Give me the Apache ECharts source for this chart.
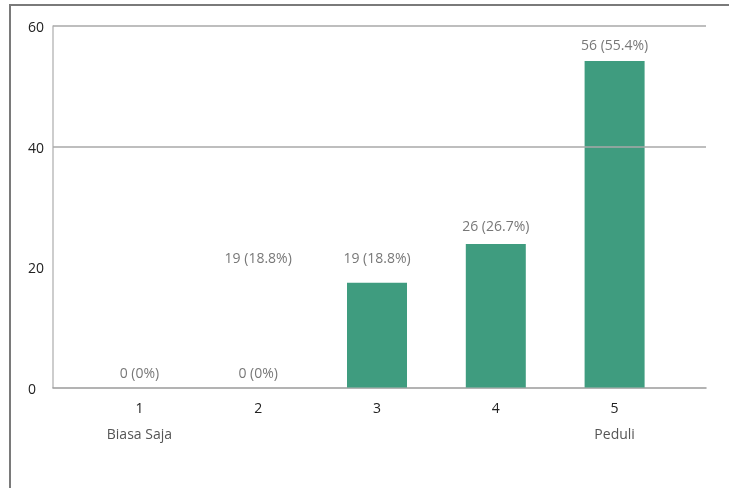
<!DOCTYPE html>
<html>
<head>
<meta charset="utf-8">
<script src="https://cdn.jsdelivr.net/npm/echarts@6/dist/echarts.min.js"></script>
<style>html,body{margin:0;padding:0;background:#fff}#c{width:729px;height:488px}</style>
</head>
<body>
<div id="c"></div>
<script>
// Categories and sub-labels
var categories = ['1', '2', '3', '4', '5'];
var subLabels = ['Biasa Saja', '', '', '', 'Peduli'];
// Bar heights as drawn in the picture
var barValues = [0, 0, 17.4, 23.8, 54.2];
// Value labels (category index, label height, text)
var labelCats = [0, 1, 1, 2, 3, 4];
var labelYs = [2.2, 2.2, 21.3, 21.3, 26.6, 56.6];
var labelTexts = ['0 (0%)', '0 (0%)', '19 (18.8%)', '19 (18.8%)', '26 (26.7%)', '56 (55.4%)'];
// Y axis ticks and drawn gridlines
var yTicks = [0, 20, 40, 60];
var gridValues = [40, 60];

var FONT = '"Open Sans", "Noto Sans", sans-serif';
var chart = echarts.init(document.getElementById('c'), null, {renderer: 'canvas'});

var labelData = labelCats.map(function (c, i) { return [c, labelYs[i]]; });

chart.setOption({
  animation: false,
  backgroundColor: '#fff',
  graphic: [{
    type: 'rect',
    shape: {x: 10, y: 5, width: 800, height: 600},
    style: {fill: 'none', stroke: '#7a7a7a', lineWidth: 2},
    silent: true
  }],
  grid: [
    {left: 53, right: 23, top: 26, bottom: 100.5},
    {left: 80, right: 55, top: 26, bottom: 100.5}
  ],
  xAxis: [
    {type: 'value', gridIndex: 0, min: 0, max: 1,
      axisLine: {show: true, lineStyle: {color: '#9a9a9a', width: 1.5}},
      axisTick: {show: false}, axisLabel: {show: false}, splitLine: {show: false}},
    {type: 'category', gridIndex: 1, data: categories,
      axisLine: {show: false}, axisTick: {show: false},
      axisLabel: {
        margin: 9,
        fontFamily: FONT,
        formatter: function (v, i) {
          return subLabels[i] ? '{a|' + v + '}\n{b|' + subLabels[i] + '}' : '{a|' + v + '}';
        },
        rich: {
          a: {fontSize: 14, color: '#222', fontFamily: FONT, lineHeight: 26},
          b: {fontSize: 14, color: '#555', fontFamily: FONT, lineHeight: 26}
        }
      }}
  ],
  yAxis: [
    {type: 'value', gridIndex: 0, min: 0, max: 60, interval: 20,
      axisLine: {show: true, lineStyle: {color: '#bdbdbd', width: 1.5}},
      axisTick: {show: false},
      splitLine: {show: false},
      axisLabel: {align: 'left', margin: 25, fontFamily: FONT,
        formatter: function (v) { return yTicks.indexOf(v) >= 0 ? '{t|' + v + '}' : ''; },
        rich: {t: {fontSize: 14, color: '#222', fontFamily: FONT, padding: [5, 0, 0, 0]}}}},
    {type: 'value', gridIndex: 1, min: 0, max: 60, interval: 20, show: false,
      splitLine: {show: false}}
  ],
  series: [
    {
      type: 'line', xAxisIndex: 0, yAxisIndex: 0, data: [], silent: true,
      markLine: {
        silent: true, symbol: ['none', 'none'], label: {show: false},
        lineStyle: {color: '#a8a8a8', width: 1.5, type: 'solid'},
        data: gridValues.map(function (v) { return {yAxis: v}; })
      }
    },
    {
      type: 'bar', xAxisIndex: 1, yAxisIndex: 1, data: barValues, barWidth: 60,
      itemStyle: {color: '#3f9c7f'}
    },
    {
      type: 'scatter', xAxisIndex: 1, yAxisIndex: 1, data: labelData, symbolSize: 0,
      silent: true,
      label: {
        show: true, position: 'inside', fontSize: 14, color: '#555', fontFamily: FONT,
        formatter: function (p) { return labelTexts[p.dataIndex]; }
      }
    }
  ]
});
</script>
</body>
</html>
